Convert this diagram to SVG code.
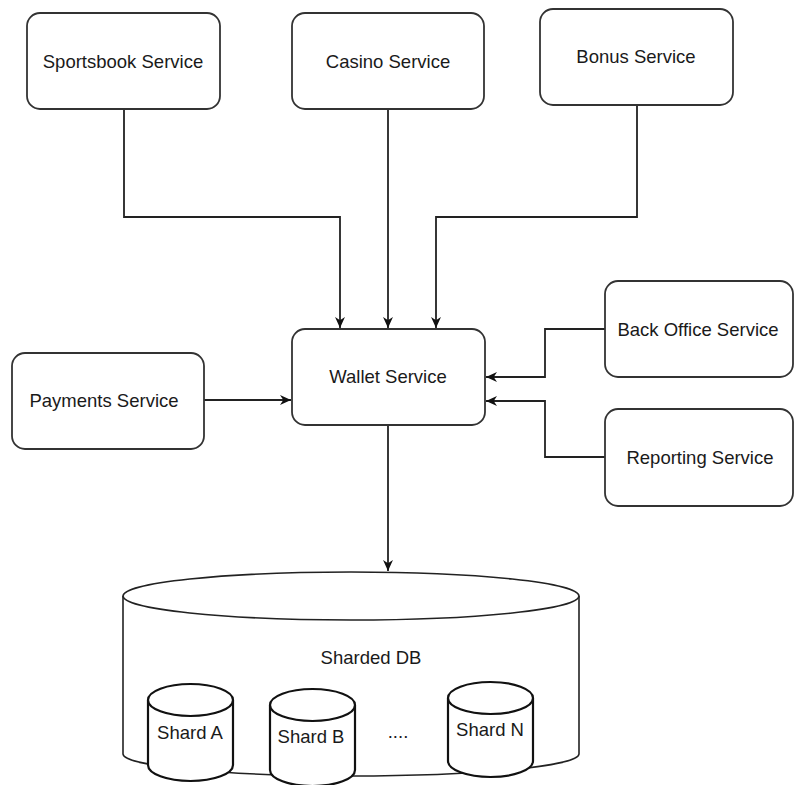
<svg xmlns="http://www.w3.org/2000/svg" width="794" height="785" viewBox="0 0 794 785">
<style>
.box{fill:#fff;stroke:#333;stroke-width:1.8}
.cyl{fill:#fff;stroke:#222;stroke-width:1.6}
.shard{fill:#fff;stroke:#111;stroke-width:2.2}
.lbl{font-family:"Liberation Sans",Arial,sans-serif;font-size:18.5px;fill:#1a1a1a;text-anchor:middle;dominant-baseline:central}
.edge{fill:none;stroke:#222;stroke-width:1.8}
</style>
<defs>
<marker id="arr" viewBox="0 0 10 10" refX="10" refY="5" markerWidth="11" markerHeight="11" markerUnits="userSpaceOnUse" orient="auto">
<path d="M0,0.5 L10,5 L0,9.5 L3,5 Z" fill="#111"/>
</marker>
</defs>
<rect width="794" height="785" fill="#fff"/>
<g id="connectors">
<path class="edge" d="M124,109 V217 H340 V328" marker-end="url(#arr)"/>
<path class="edge" d="M388,109 V328" marker-end="url(#arr)"/>
<path class="edge" d="M637,105 V217 H436 V328" marker-end="url(#arr)"/>
<path class="edge" d="M204,400 H291" marker-end="url(#arr)"/>
<path class="edge" d="M605,329 H545 V377 H486" marker-end="url(#arr)"/>
<path class="edge" d="M605,457 H545 V401 H486" marker-end="url(#arr)"/>
<path class="edge" d="M388,425 V571" marker-end="url(#arr)"/>
</g>
<g id="sportsbook"><rect class="box" x="27" y="13" width="193" height="96" rx="13"/><text class="lbl" x="123" y="61">Sportsbook Service</text></g>
<g id="casino"><rect class="box" x="292" y="13" width="192" height="96" rx="13"/><text class="lbl" x="388" y="61">Casino Service</text></g>
<g id="bonus"><rect class="box" x="540" y="9" width="193" height="96" rx="13"/><text class="lbl" x="636" y="56">Bonus Service</text></g>
<g id="wallet"><rect class="box" x="292" y="329" width="193" height="96" rx="13"/><text class="lbl" x="388" y="376">Wallet Service</text></g>
<g id="payments"><rect class="box" x="12" y="353" width="192" height="96" rx="13"/><text class="lbl" x="104" y="400">Payments Service</text></g>
<g id="backoffice"><rect class="box" x="605" y="281" width="188" height="96" rx="13"/><text class="lbl" x="698" y="329">Back Office Service</text></g>
<g id="reporting"><rect class="box" x="605" y="409" width="188" height="97" rx="13"/><text class="lbl" x="700" y="457">Reporting Service</text></g>
<g id="shardeddb">
<path class="cyl" d="M123,596 V754 A228,22 0 0 0 579,754 V596"/>
<ellipse class="cyl" cx="351" cy="596" rx="228" ry="24"/>
<text class="lbl" x="371" y="657">Sharded DB</text>
<text class="lbl" x="398" y="731">....</text>
</g>
<g id="sharda">
<path class="shard" d="M148,700 V765 A42.5,16 0 0 0 233,765 V700"/>
<ellipse class="shard" cx="190.5" cy="700" rx="42.5" ry="16"/>
<text class="lbl" x="190" y="732">Shard A</text>
</g>
<g id="shardb">
<path class="shard" d="M270,705 V770 A42.5,16 0 0 0 355,770 V705"/>
<ellipse class="shard" cx="312.5" cy="705" rx="42.5" ry="16"/>
<text class="lbl" x="311" y="736">Shard B</text>
</g>
<g id="shardn">
<path class="shard" d="M448,698 V761 A42.5,16 0 0 0 533,761 V698"/>
<ellipse class="shard" cx="490.5" cy="698" rx="42.5" ry="16"/>
<text class="lbl" x="490" y="729">Shard N</text>
</g>
</svg>
